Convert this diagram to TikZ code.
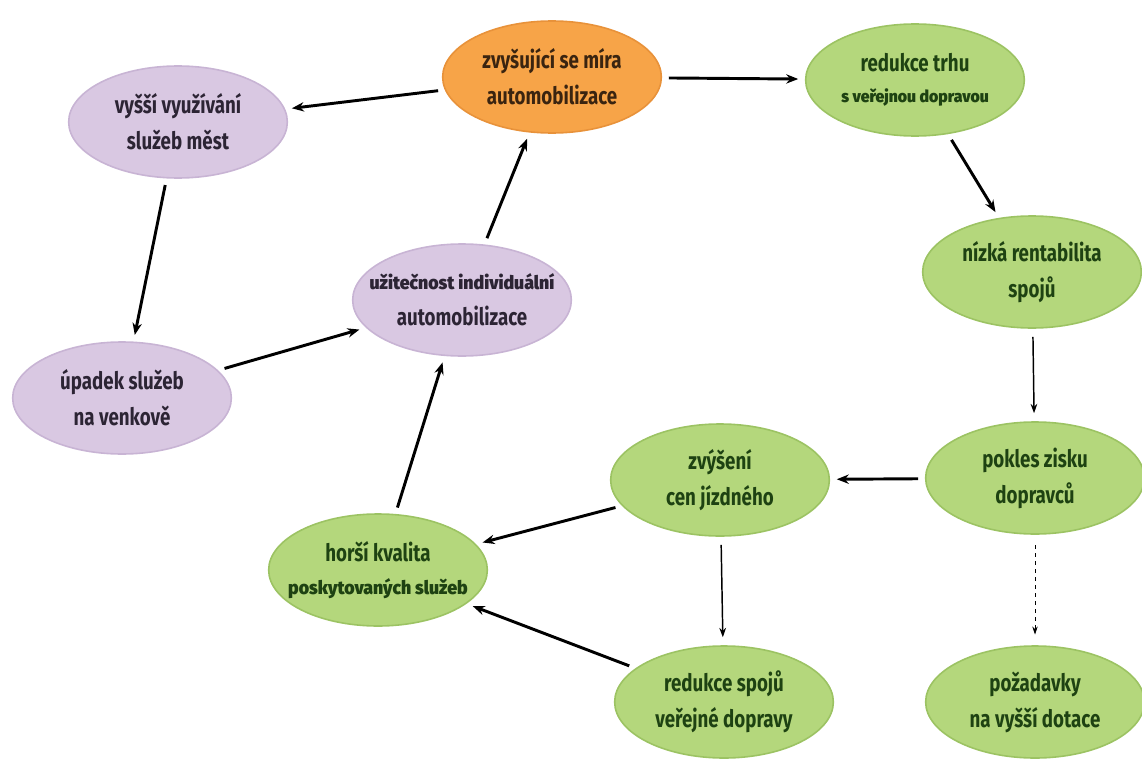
\documentclass[tikz,border=0pt]{standalone}
\usepackage{fontspec}
\setmainfont{Fira Sans}[FakeStretch=0.78,BoldFont={Fira Sans Bold}]
\newfontfamily\widefont{Fira Sans Bold}[FakeStretch=0.95]
\usetikzlibrary{shapes.geometric,arrows.meta}
\definecolor{orfill}{HTML}{F7A448}
\definecolor{ordraw}{HTML}{E8923A}
\definecolor{ortext}{HTML}{3A2410}
\definecolor{grfill}{HTML}{B4D77C}
\definecolor{grdraw}{HTML}{9CC363}
\definecolor{grtext}{HTML}{1E4212}
\definecolor{pufill}{HTML}{D9C8E2}
\definecolor{pudraw}{HTML}{C8B4D4}
\definecolor{putext}{HTML}{2C2434}
\newcommand\smallline[2][12.5]{\makebox[0pt][c]{\widefont\fontsize{#1}{20}\selectfont #2}}
\tikzset{
  bub/.style={ellipse, minimum width=164pt, minimum height=84pt, inner sep=0pt,
    line width=1.2pt, align=center, font=\bfseries\fontsize{18}{27}\selectfont},
  orb/.style={bub, fill=orfill, draw=ordraw, text=ortext},
  grb/.style={bub, fill=grfill, draw=grdraw, text=grtext},
  pub/.style={bub, fill=pufill, draw=pudraw, text=putext},
  arr/.style={-{Stealth[length=9pt,width=7pt]}, line width=2.2pt, black, shorten >=5pt, shorten <=5pt},
  arrthin/.style={-{Stealth[length=7pt,width=5pt]}, line width=1.1pt, black, shorten >=6pt, shorten <=6pt},
  arrdash/.style={-{Stealth[length=6pt,width=4pt]}, line width=0.6pt, black, dashed, shorten >=8pt, shorten <=8pt}
}
\begin{document}
\begin{tikzpicture}[x=0.75pt,y=-0.75pt]
\useasboundingbox (0,0) rectangle (1142,767);
\node[orb] (mira) at (552,77) {zvyšující se míra\\automobilizace};
\node[grb] (trh) at (915,80) {redukce trhu\\[-4pt]\smallline{s veřejnou dopravou}};
\node[pub] (mest) at (178,122) {vyšší využívání\\služeb měst};
\node[pub] (uzit) at (462,300) {\smallline[14]{užitečnost individuální}\\automobilizace};
\node[pub] (upad) at (122,398) {úpadek služeb\\na venkově};
\node[grb] (rent) at (1032,272) {nízká rentabilita\\spojů};
\node[grb] (zisk) at (1035,478) {pokles zisku\\dopravců};
\node[grb] (cen) at (720,480) {zvýšení\\cen jízdného};
\node[grb] (kval) at (378,570) {horší kvalita\\[-2pt]\smallline[14]{poskytovaných služeb}};
\node[grb] (spoj) at (724,702) {redukce spojů\\veřejné dopravy};
\node[grb] (dot) at (1035,702) {požadavky\\na vyšší dotace};

\draw[arr] (mira) -- (mest);
\draw[arr] (mira) -- (trh);
\draw[arr] (trh) -- (rent);
\draw[arrthin] (rent) -- (zisk);
\draw[arr] (zisk) -- (cen);
\draw[arrdash] (zisk) -- (dot);
\draw[arr] (cen) -- (kval);
\draw[arrthin] (cen) -- (spoj);
\draw[arr] (spoj) -- (kval);
\draw[arr] (kval) -- (uzit);
\draw[arr] (uzit) -- (mira);
\draw[arr] (upad) -- (uzit);
\draw[arr] (mest) -- (upad);
\end{tikzpicture}
\end{document}
